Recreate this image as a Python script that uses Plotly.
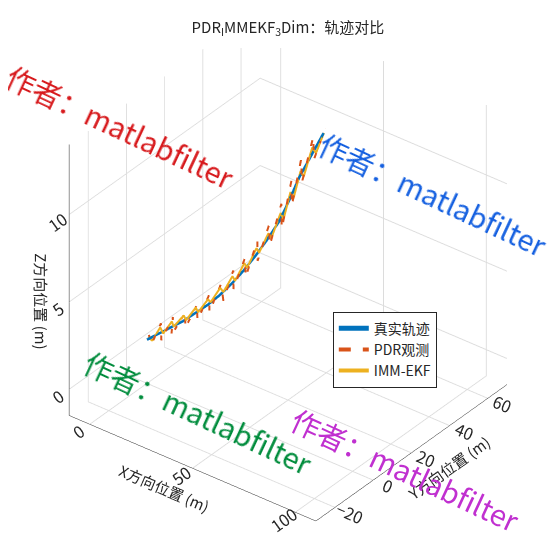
import plotly.graph_objects as go

# true trajectory
true_x = [0, 4, 8, 12, 16, 20, 24, 28, 32, 36, 40, 44, 47, 50, 54, 58]
true_y = [0, 2, 4, 6, 8, 10, 12, 14, 16, 18, 20, 22, 24, 26, 28, 30]
true_z = [1.0, 1.4, 1.8, 2.2, 2.7, 3.2, 3.8, 4.5, 5.3, 6.2, 7.2, 8.3, 9.5, 10.8, 12.1, 13.4]

# PDR observations
pdr_x = [0, 2, 4, 6, 8, 10, 12, 14, 16, 18, 20, 22, 24, 26, 28, 30, 32, 34, 36, 38, 40, 42, 44, 46, 47, 49, 50, 52, 54, 56, 58]
pdr_y = [1, 0, 3, 1, 5, 2, 7, 5, 9, 7, 11, 9, 13, 12, 15, 13, 17, 15, 19, 17, 21, 19, 23, 21, 25, 23, 27, 25, 29, 27, 31]
pdr_z = [1.2, 0.8, 1.9, 1.2, 2.3, 1.6, 2.6, 2.0, 3.1, 2.5, 3.7, 3.0, 4.4, 3.6, 5.2, 4.4, 6.0, 5.1, 7.0, 6.1, 8.0, 7.0, 9.2, 8.0, 10.5, 9.3, 11.8, 10.6, 13.1, 12.0, 13.6]

# IMM-EKF estimates
ekf_x = [0, 2, 4, 6, 8, 10, 12, 14, 16, 18, 20, 22, 24, 26, 28, 30, 32, 34, 36, 38, 40, 42, 44, 46, 47, 49, 50, 52, 54, 56, 58]
ekf_y = [0.5, 0.6, 2.6, 2.0, 4.4, 3.2, 6.3, 5.4, 8.3, 7.4, 10.4, 9.6, 12.5, 12.0, 14.6, 13.8, 16.5, 15.8, 18.6, 17.8, 20.5, 20.0, 22.6, 22.0, 24.5, 24.0, 26.6, 26.0, 28.4, 28.2, 30.2]
ekf_z = [1.1, 1.0, 1.7, 1.5, 2.1, 2.0, 2.5, 2.4, 3.0, 2.9, 3.5, 3.5, 4.2, 4.1, 4.9, 4.8, 5.7, 5.6, 6.6, 6.5, 7.5, 7.4, 8.7, 8.5, 9.9, 9.7, 11.1, 10.9, 12.5, 12.3, 13.4]

fig = go.Figure()
fig.add_trace(go.Scatter3d(x=true_x, y=true_y, z=true_z, mode="lines", name="真实轨迹",
                           line=dict(color="#0072BD", width=5)))
fig.add_trace(go.Scatter3d(x=pdr_x, y=pdr_y, z=pdr_z, mode="lines", name="PDR观测",
                           line=dict(color="#D95319", width=4, dash="dash")))
fig.add_trace(go.Scatter3d(x=ekf_x, y=ekf_y, z=ekf_z, mode="lines", name="IMM-EKF",
                           line=dict(color="#EDB120", width=4)))

ax = dict(showbackground=False, gridcolor="#dcdcdc", zeroline=False, showline=True,
          linecolor="#262626", tickfont=dict(size=14, color="#262626"), showspikes=False)
fig.update_layout(
    width=560, height=560, margin=dict(l=0, r=0, t=40, b=0),
    paper_bgcolor="white", font=dict(family="Noto Sans CJK SC", color="#262626"),
    title=dict(text="PDR<sub>I</sub>MMEKF<sub>3</sub>Dim：轨迹对比", x=0.5, y=0.975, font=dict(size=15)),
    scene=dict(
        xaxis=dict(ax, title=dict(text="X方向位置 (m)", font=dict(size=15)), range=[-10, 110], tickvals=[0, 50, 100]),
        yaxis=dict(ax, title=dict(text="Y方向位置 (m)", font=dict(size=15)), range=[-30, 70], tickvals=[-20, 0, 20, 40, 60]),
        zaxis=dict(ax, title=dict(text="Z方向位置 (m)", font=dict(size=15)), range=[-1.5, 14], tickvals=[0, 5, 10]),
        aspectmode="manual", aspectratio=dict(x=1.2, y=1.2, z=1.25),
        camera=dict(eye=dict(x=1.2, y=-1.55, z=1.1), center=dict(x=0, y=0, z=-0.2),
                    projection=dict(type="orthographic")),
    ),
    legend=dict(x=0.58, y=0.42, bgcolor="white", bordercolor="#262626", borderwidth=1, font=dict(size=14)),
)
for txt, color, x, y, ang in [
    ("作者：matlabfilter", "#D7191C", 0.2, 0.85, 25),
    ("作者：matlabfilter", "#1560E0", 0.76, 0.72, 25),
    ("作者：matlabfilter", "#008C3C", 0.34, 0.30, 25),
    ("作者：matlabfilter", "#C030D0", 0.71, 0.19, 25),
]:
    fig.add_annotation(text=txt, x=x, y=y, xref="paper", yref="paper", showarrow=False,
                       xanchor="center", yanchor="middle",
                       textangle=ang, font=dict(size=29, color=color))
fig.write_html("out.html")
